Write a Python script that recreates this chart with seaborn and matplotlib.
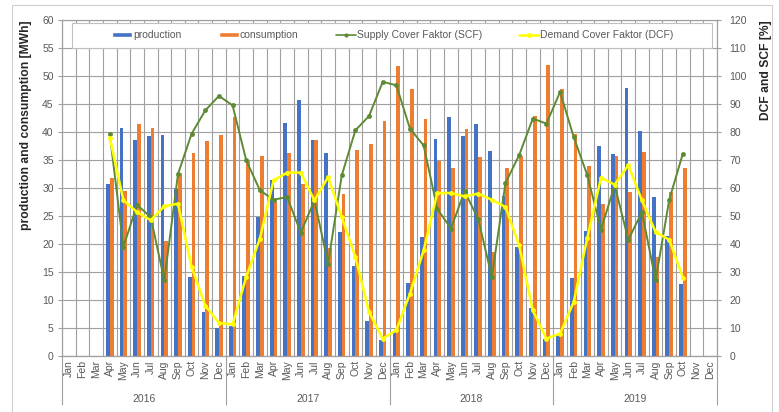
import numpy as np
import pandas as pd
import matplotlib
matplotlib.use("Agg")
import matplotlib.pyplot as plt
import seaborn as sns
from matplotlib.patches import Patch, Rectangle
from matplotlib.lines import Line2D

nan = np.nan
years = ["2016", "2017", "2018", "2019"]
month_names = ["Jan", "Feb", "Mar", "Apr", "May", "Jun", "Jul", "Aug", "Sep", "Oct", "Nov", "Dec"]

production = [nan, nan, nan, 30.7, 40.7, 38.5, 39.3, 39.4, 29.9, 14.1, 7.9, 5.0,
              5.4, 14.2, 24.9, 31.5, 41.6, 45.8, 38.6, 36.3, 22.1, 16.1, 6.2, 2.8,
              4.3, 13.0, 21.3, 38.8, 42.6, 39.2, 41.5, 36.6, 28.5, 19.5, 8.5, 3.0,
              3.7, 14.0, 22.3, 37.5, 36.0, 47.9, 40.1, 28.4, 21.5, 12.8, nan, nan]
consumption = [nan, nan, nan, 31.7, 29.5, 41.4, 40.7, 20.5, 32.7, 36.3, 38.4, 39.5,
               42.7, 34.9, 35.8, 27.5, 36.3, 30.7, 38.6, 19.2, 29.0, 36.8, 37.8, 42.0,
               51.8, 47.7, 42.4, 34.9, 33.5, 40.6, 35.5, 18.6, 33.5, 35.8, 42.8, 51.9,
               47.7, 39.7, 33.9, 27.1, 35.7, 29.3, 36.4, 17.6, 29.3, 33.5, nan, nan]
scf = [nan, nan, nan, 79.4, 39.0, 54.0, 49.6, 27.0, 65.0, 79.4, 87.7, 92.9,
       89.5, 69.9, 59.2, 55.8, 56.8, 44.0, 55.6, 33.0, 64.5, 80.6, 85.7, 97.9,
       96.7, 81.2, 75.2, 52.6, 45.5, 58.8, 49.0, 28.2, 61.8, 71.7, 84.8, 83.0,
       94.3, 78.2, 64.5, 45.1, 61.0, 41.5, 51.4, 27.0, 55.8, 72.3, nan, nan]
dcf = [nan, nan, nan, 78.0, 55.6, 51.4, 48.5, 53.5, 54.4, 31.8, 18.0, 11.8,
       11.3, 28.2, 41.9, 62.7, 65.5, 65.5, 55.6, 63.9, 49.6, 35.4, 15.7, 6.2,
       9.2, 22.3, 37.7, 58.2, 58.2, 57.0, 58.0, 55.8, 53.2, 39.5, 16.3, 6.2,
       8.0, 19.3, 42.3, 63.7, 61.2, 68.1, 55.6, 44.3, 41.5, 28.0, nan, nan]

BLUE = "#4472C4"
ORANGE = "#ED7D31"
GREEN = "#5E8A34"
YELLOW = "#FFFF00"
GRID = "#A0A0A0"
TXT = "#595959"

sns.set_style("white")
plt.rcParams['font.family'] = ['Liberation Sans', 'DejaVu Sans']

keys = [f"{m} {y}" for y in years for m in month_names]
n = len(keys)
idx = np.arange(n)

df = pd.DataFrame({
    "month": keys * 2,
    "series": ["production"] * n + ["consumption"] * n,
    "value": production + consumption,
}).dropna()

W, H = 779, 412
fig = plt.figure(figsize=(W / 100, H / 100), dpi=100)
L, R, T, B = 62, 717, 20, 356
ax = fig.add_axes([L / W, 1 - B / H, (R - L) / W, (B - T) / H])

sns.barplot(data=df, x="month", y="value", hue="series", order=keys,
            hue_order=["production", "consumption"], palette=[BLUE, ORANGE],
            width=0.55, saturation=1, legend=False, ax=ax, linewidth=0)

ax.set_xlim(-0.5, n - 0.5)
ax.set_ylim(0, 60)
ax.set_yticks(np.arange(0, 61, 5))
ax.set_xticks(idx)
ax.set_xticklabels([k.split()[0] for k in keys], rotation=90, fontsize=7.5, color=TXT)
ax.set_xticks(np.arange(-0.5, n, 1), minor=True)
ax.tick_params(axis="x", which="major", length=0, pad=3)
ax.tick_params(axis="x", which="minor", length=15, color=GRID, width=0.8, direction="out")
ax.tick_params(axis="y", length=3, color=GRID, width=0.8, labelsize=7.5, labelcolor=TXT, pad=3)
ax.set_axisbelow(True)
ax.grid(axis="y", which="major", color=GRID, lw=0.8)
ax.grid(axis="x", which="minor", color=GRID, lw=0.8)
ax.set_xlabel("")
ax.set_ylabel("")
for s in ax.spines.values():
    s.set_color(GRID)
    s.set_linewidth(0.8)

ax2 = ax.twinx()
sns.lineplot(x=idx, y=scf, ax=ax2, color=GREEN, lw=1.4, marker="o", markersize=3.5,
             markeredgewidth=0)
sns.lineplot(x=idx, y=dcf, ax=ax2, color=YELLOW, lw=1.8, marker="o", markersize=3.5,
             markeredgewidth=0)
ax2.set_ylim(0, 120)
ax2.set_xlim(-0.5, n - 0.5)
ax2.set_yticks(np.arange(0, 121, 10))
ax2.tick_params(axis="y", length=3, color=GRID, width=0.8, labelsize=7.5, labelcolor=TXT, pad=6)
ax2.set_ylabel("")
ax2.set_xlabel("")
for s in ax2.spines.values():
    s.set_color(GRID)
    s.set_linewidth(0.8)

# year level of the category axis
sec = ax.secondary_xaxis("bottom")
sec.set_xticks(np.arange(-0.5, n, 12))
sec.set_xticklabels([])
sec.set_xticks(np.arange(5.5, n, 12), minor=True)
sec.set_xticklabels(years, minor=True, fontsize=7.5, color=TXT)
sec.tick_params(axis="x", which="major", length=35, color=GRID, width=0.8, direction="out")
sec.tick_params(axis="x", which="minor", length=0, pad=27)
sec.spines["bottom"].set_color(GRID)
sec.spines["bottom"].set_linewidth(0.8)

fig.text(26 / W, 1 - T / H, "production and consumption [MWh]", rotation=90,
         ha="center", va="top", fontsize=8.7, fontweight="bold", color="#262626")
fig.text(766 / W, 1 - T / H, "DCF and SCF [%]", rotation=90,
         ha="center", va="top", fontsize=8.7, fontweight="bold", color="#262626")

# outer chart border
fig.add_artist(Rectangle((12 / W, -0.05), (772 - 12) / W, 1.05 - 5 / H,
                         transform=fig.transFigure, fill=False, ec="#D0D0D0", lw=0.8))
# legend box
fig.add_artist(Rectangle((72 / W, 1 - 48 / H), (712 - 72) / W, 25 / H,
                         transform=fig.transFigure, fc="white", ec="#BFBFBF", lw=0.8, zorder=3))
handles = [Patch(facecolor=BLUE), Patch(facecolor=ORANGE),
           Line2D([], [], color=GREEN, lw=1.2, marker="o", markersize=3, markeredgewidth=0),
           Line2D([], [], color=YELLOW, lw=1.8, marker="o", markersize=3.5, markeredgewidth=0)]
labels = ["production", "consumption", "Supply Cover Faktor (SCF)", "Demand Cover Faktor (DCF)"]
leg = fig.legend(handles, labels, loc="center", bbox_to_anchor=(393 / W, 1 - 35.5 / H),
                 ncol=4, frameon=False, fontsize=7.5, handlelength=1.9, handleheight=0.4,
                 handletextpad=0.1, columnspacing=3.6, labelcolor=TXT)
leg.set_zorder(5)

fig.savefig("out.png", dpi=100)
